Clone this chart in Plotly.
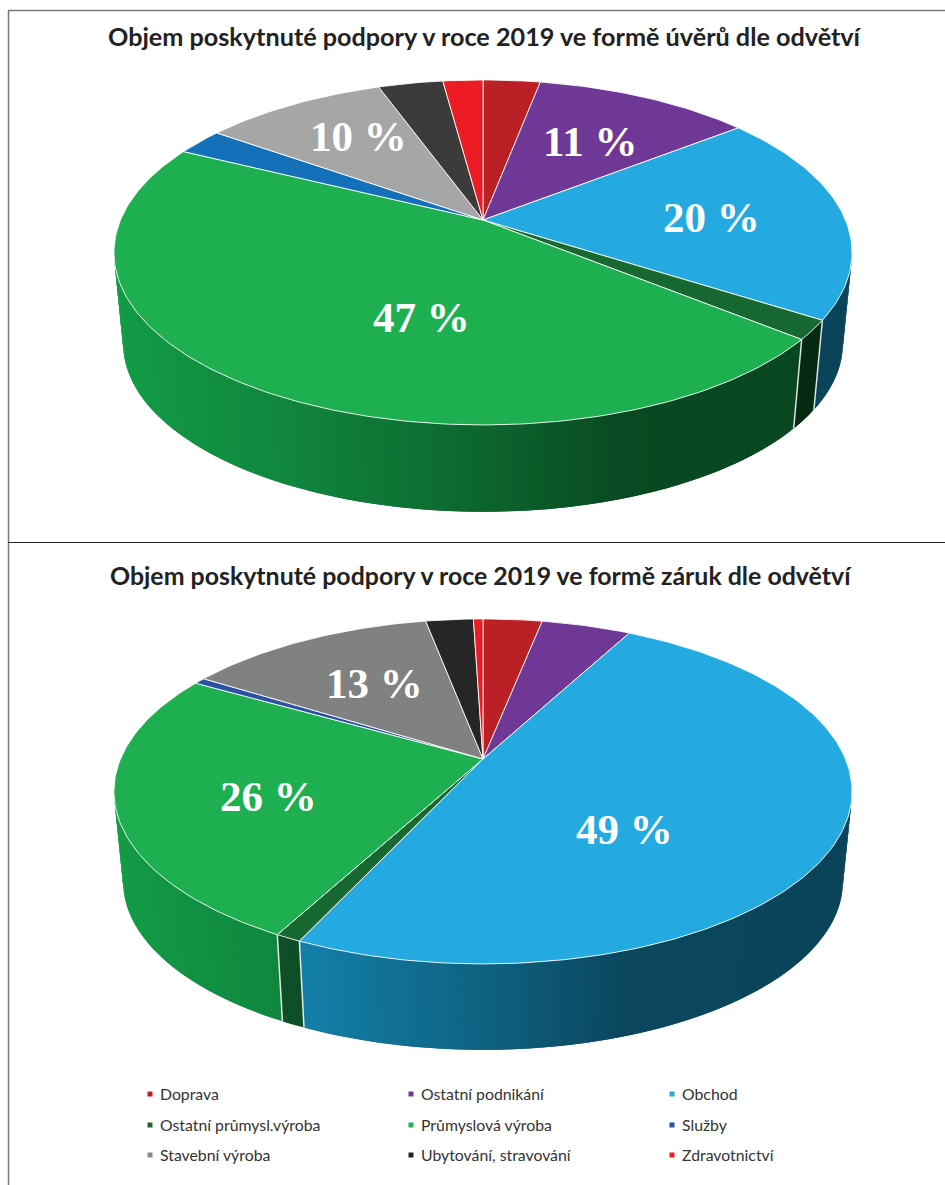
import math
import plotly.graph_objects as go

# ---------- data ----------
categories = ["Doprava", "Ostatní podnikání", "Obchod",
              "Ostatní průmysl.výroba", "Průmyslová výroba", "Služby",
              "Stavební výroba", "Ubytování, stravování", "Zdravotnictví"]
uvery_values = [3.0, 11.4, 19.7, 1.8, 46.45, 2.5, 9.65, 3.4, 2.1]
zaruky_values = [3.1, 4.7, 49.1, 0.95, 25.45, 0.6, 13.1, 2.5, 0.5]
uvery_title = "Objem poskytnuté podpory v roce 2019 ve formě úvěrů dle odvětví"
zaruky_title = "Objem poskytnuté podpory v roce 2019 ve formě záruk dle odvětví"
uvery_labels = ["10 %", "11 %", "20 %", "47 %"]
zaruky_labels = ["13 %", "26 %", "49 %"]

# ---------- style ----------
uvery_colors = ["#BB2026", "#703896", "#24AAE1", "#186832", "#1EB050",
                "#1470B8", "#A6A6A6", "#3D3A3A", "#ED1C24"]
zaruky_colors = ["#BB2026", "#703896", "#24AAE1", "#186832", "#1EB050",
                 "#2A52A0", "#808282", "#262626", "#ED1C24"]
legend_colors = ["#BB2026", "#703896", "#24AAE1", "#186832", "#1EB050",
                 "#2A52A0", "#8A8A8A", "#262626", "#ED1C24"]

PERSP = 0.188
A, B = 362.5, 166.4
WALL_SCALE = 0.975
SEP = "rgba(255,255,255,0.85)"
SHADE = [(-1.0, 0.88), (-0.5, 0.75), (0.0, 0.58), (0.4, 0.42), (1.0, 0.40)]


def project(theta, cx, cy, scale=1.0):
    u, v = math.sin(theta), math.cos(theta)
    d = 1 + PERSP * v
    return cx + scale * A * u / d, cy - scale * B * v / d


def shade(rgb_hex, xn):
    xn = max(-1.0, min(1.0, xn))
    f = SHADE[-1][1]
    for (x0, f0), (x1, f1) in zip(SHADE, SHADE[1:]):
        if x0 <= xn <= x1:
            f = f0 + (f1 - f0) * (xn - x0) / (x1 - x0)
            break
    r, g, b = [int(rgb_hex[i:i + 2], 16) for i in (1, 3, 5)]
    return f"rgb({r * f * 0.7:.0f},{g * f:.0f},{b * f:.0f})"


fig = go.Figure()


def poly(xs, ys, fill, line=None, width=0):
    fig.add_trace(go.Scatter(x=xs, y=ys, mode="lines", fill="toself", fillcolor=fill,
                             line=dict(color=line or fill, width=width), hoverinfo="skip",
                             showlegend=False))


def draw_pie(values, colors, cx, cy, drop):
    total = sum(values)
    edges = [0.0]
    for val in values:
        edges.append(edges[-1] + val / total * 2 * math.pi)
    front0 = math.acos(-PERSP)
    front1 = 2 * math.pi - front0
    # side wall: each band overlaps the next one so no seams appear
    for i, col in enumerate(colors):
        a0, a1 = max(edges[i], front0), min(edges[i + 1], front1)
        if a1 <= a0:
            continue
        n = max(1, int((a1 - a0) / math.radians(1.0)))
        step = (a1 - a0) / n
        for k in range(n):
            t0 = a0 + step * k
            t1 = min(a1, t0 + 2 * step)
            ts = [t0, (t0 + t1) / 2, t1]
            top = [project(t, cx, cy) for t in ts]
            bot = [project(t, cx, cy + drop, WALL_SCALE) for t in reversed(ts)]
            p = top + bot + [top[0]]
            c = shade(col, (top[0][0] - cx) / A)
            poly([q[0] for q in p], [q[1] for q in p], c)
    # wall separators
    for e in edges:
        if front0 < e < front1:
            t, b = project(e, cx, cy), project(e, cx, cy + drop, WALL_SCALE)
            fig.add_trace(go.Scatter(x=[t[0], b[0]], y=[t[1], b[1]], mode="lines",
                                     line=dict(color=SEP, width=1.5), hoverinfo="skip",
                                     showlegend=False))
    # top face
    for i, col in enumerate(colors):
        n = max(2, int((edges[i + 1] - edges[i]) / math.radians(1)))
        pts = [project(edges[i] + (edges[i + 1] - edges[i]) * k / n, cx, cy) for k in range(n + 1)]
        poly([cx] + [q[0] for q in pts] + [cx], [cy] + [q[1] for q in pts] + [cy], col, SEP, 1)


draw_pie(uvery_values, uvery_colors, 483, 220, 92)
draw_pie(zaruky_values, zaruky_colors, 483, 759, 91)

# ---------- layout placements ----------
annotations = []
for txt, xx, yy, sz in ((uvery_title, 485, 36, 25.2), (zaruky_title, 481, 575, 24.9)):
    annotations.append(dict(x=xx, y=yy, text=f"<b>{txt}</b>", showarrow=False, xanchor="center",
                            yanchor="middle", font=dict(family="Lato", size=sz, color="#222222")))
for txt, (xx, yy) in list(zip(uvery_labels, [(358, 136), (590, 141), (711, 217), (421, 317)])) + \
        list(zip(zaruky_labels, [(374, 683), (268, 796), (624, 829)])):
    annotations.append(dict(x=xx, y=yy, text=f"<b>{txt}</b>", showarrow=False, xanchor="center",
                            yanchor="middle",
                            font=dict(family="Liberation Serif", size=43, color="white")))
col_x = [150, 411, 672]
row_y = [1094, 1125, 1155]
lx, ly = [], []
for i, name in enumerate(categories):
    xx, yy = col_x[i % 3], row_y[i // 3]
    lx.append(xx)
    ly.append(yy)
    annotations.append(dict(x=xx + 8, y=yy - 1, text=name, showarrow=False, xanchor="left",
                            yanchor="middle", font=dict(family="Lato", size=15.8, color="#333333")))
fig.add_trace(go.Scatter(x=lx, y=ly, mode="markers", hoverinfo="skip", showlegend=False,
                         marker=dict(symbol="square", size=5, color=legend_colors)))

frame = [(8.5, 10.5, 8.5, 1185, "#777777", 1.5), (8, 10.5, 945, 10.5, "#777777", 1.5),
         (8, 542.5, 945, 542.5, "#222222", 1.2)]
shapes = [dict(type="line", x0=a, y0=b, x1=c, y1=d, line=dict(color=col, width=w))
          for a, b, c, d, col, w in frame]

fig.update_layout(width=945, height=1185, margin=dict(l=0, r=0, t=0, b=0),
                  paper_bgcolor="white", plot_bgcolor="white", showlegend=False,
                  xaxis=dict(range=[0, 945], visible=False, fixedrange=True),
                  yaxis=dict(range=[1185, 0], visible=False, fixedrange=True),
                  annotations=annotations, shapes=shapes)
fig.write_html("out.html", post_script="document.body.style.margin='0';document.body.style.overflow='hidden';",
               config={"displayModeBar": False})
